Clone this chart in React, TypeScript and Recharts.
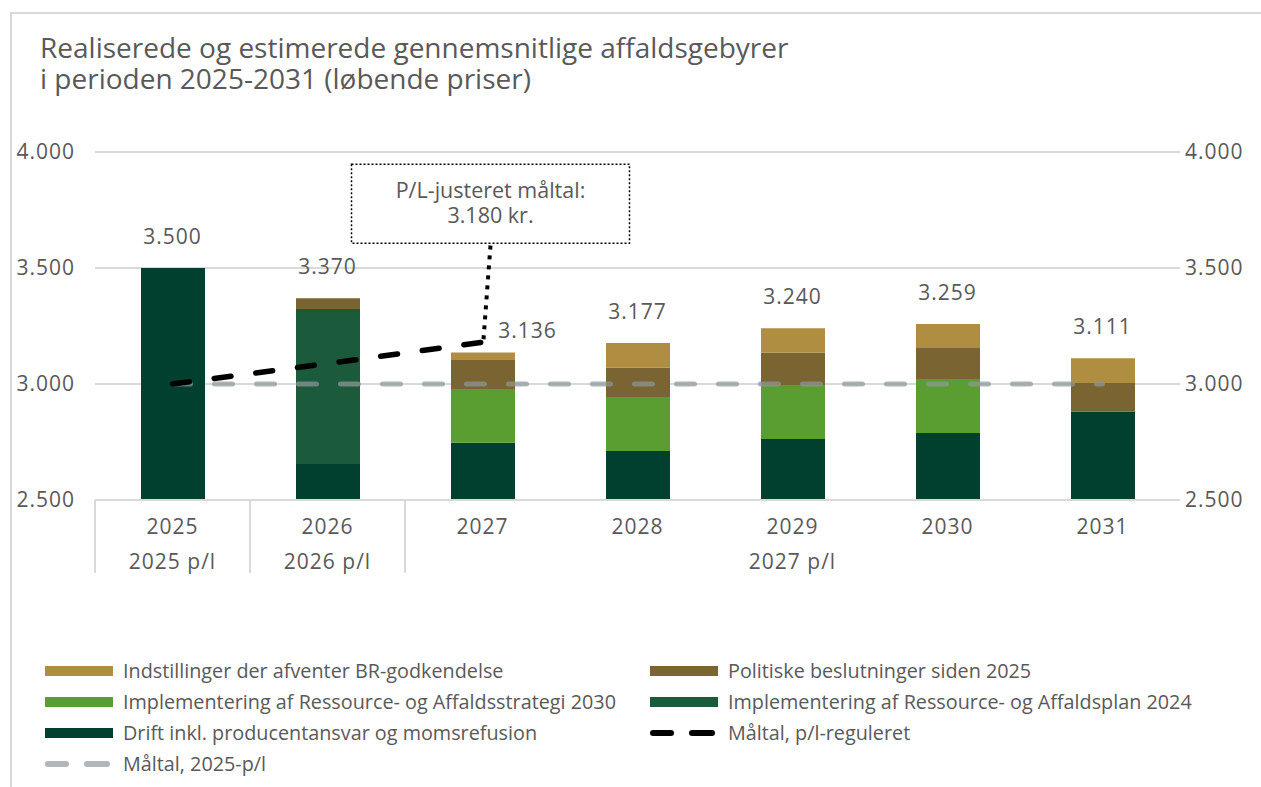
import React, { useLayoutEffect } from 'react';
import {
  ComposedChart,
  Bar,
  Line,
  XAxis,
  YAxis,
  CartesianGrid,
  ReferenceDot,
  LabelList,
} from 'recharts';

// Data
const years = ['2025', '2026', '2027', '2028', '2029', '2030', '2031'];
const groupLabels = ['2025 p/l', '2026 p/l', '', '', '2027 p/l', '', ''];
const groupStarts = [true, true, true, false, false, false, false];

const drift = [3500, 2655, 2747, 2711, 2763, 2789, 2881];
const plan2024 = [0, 668, 0, 0, 0, 0, 0];
const strategy2030 = [0, 0, 231, 233, 233, 233, 0];
const political = [0, 47, 125, 126, 139, 133, 123];
const pending = [0, 0, 33, 107, 105, 104, 107];
const totals = [3500, 3370, 3136, 3177, 3240, 3259, 3111];

const targetAdjusted = [3000, 3088, 3180, null, null, null, null];
const target2025 = [3000, 3000, 3000, 3000, 3000, 3000, 3000];

const yTicks = [2500, 3000, 3500, 4000];

const titleLines = [
  'Realiserede og estimerede gennemsnitlige affaldsgebyrer',
  'i perioden 2025-2031 (løbende priser)',
];
const calloutLines = ['P/L-justeret måltal:', '3.180 kr.'];

const FONT = '"Open Sans", "Noto Sans", sans-serif';
const TEXT = '#595959';
const GRID = '#d9d9d9';
const NUM_STYLE = { fill: TEXT, fontSize: 21, fontFamily: FONT, letterSpacing: 1 };

const COLORS = {
  drift: '#013f2e',
  plan: '#1b5a3a',
  strategy: '#5a9e32',
  political: '#7a6431',
  pending: '#b08e41',
  target2025: '#8e979a',
  targetAdjusted: '#000000',
};

const W = 1261;
const H = 787;
const PLOT_LEFT = 95;
const PLOT_RIGHT = 1180;
const BAND = (PLOT_RIGHT - PLOT_LEFT) / years.length;

const data = years.map((year, i) => ({
  year,
  drift: drift[i],
  plan: plan2024[i],
  strategy: strategy2030[i],
  political: political[i],
  pending: pending[i],
  total: totals[i],
  targetAdjusted: targetAdjusted[i],
  target2025: target2025[i],
}));

const fmt = (n: number) => String(n).replace(/\B(?=(\d{3})+(?!\d))/g, '.');

const XTick = (props: any) => {
  const { x, y, payload } = props;
  const i = payload.index;
  return (
    <g>
      <text x={x} y={y + 26} textAnchor="middle" dominantBaseline="central" {...NUM_STYLE}>
        {payload.value}
      </text>
      {groupLabels[i] && (
        <text x={x} y={y + 61} textAnchor="middle" dominantBaseline="central" {...NUM_STYLE}>
          {groupLabels[i]}
        </text>
      )}
      {groupStarts[i] && (
        <line x1={x - BAND / 2} x2={x - BAND / 2} y1={y} y2={y + 73} stroke={GRID} strokeWidth={2} />
      )}
    </g>
  );
};

const TotalLabel = (props: any) => {
  const { x, y, value, index } = props;
  const shifted = index === 2;
  return (
    <text x={x + (shifted ? 45 : 0)} y={y - (shifted ? 22 : 32)} textAnchor="middle"
      dominantBaseline="central" {...NUM_STYLE}>
      {fmt(value)}
    </text>
  );
};

// dotted connector + dotted box, anchored on the 2027 end of the adjusted target line
const Callout = (props: any) => {
  const { cx, cy } = props;
  if (cx == null || cy == null) return null;
  return (
    <g>
      <path d={`M${cx + 1},${cy - 3} L${cx + 8},${cy - 97}`} stroke="#000" strokeWidth={4}
        strokeDasharray="4 6" fill="none" />
      <rect x={cx - 131} y={cy - 178} width={278} height={79} fill="#fff" stroke="#000"
        strokeWidth={1.5} strokeDasharray="2 2" />
      <text x={cx + 8} y={cy - 144} textAnchor="middle" fill={TEXT} fontSize={21.5} fontFamily={FONT}>
        <tspan x={cx + 8}>{calloutLines[0]}</tspan>
        <tspan x={cx + 8} dy={25}>{calloutLines[1]}</tspan>
      </text>
    </g>
  );
};

const legendItems = [
  { label: 'Indstillinger der afventer BR-godkendelse', color: COLORS.pending, dash: false },
  { label: 'Politiske beslutninger siden 2025', color: COLORS.political, dash: false },
  { label: 'Implementering af Ressource- og Affaldsstrategi 2030', color: COLORS.strategy, dash: false },
  { label: 'Implementering af Ressource- og Affaldsplan 2024', color: COLORS.plan, dash: false },
  { label: 'Drift inkl. producentansvar og momsrefusion', color: COLORS.drift, dash: false },
  { label: 'Måltal, p/l-reguleret', color: '#000', dash: true },
  { label: 'Måltal, 2025-p/l', color: '#b0b6b9', dash: true },
];

const Swatch = ({ color, dash }: { color: string; dash: boolean }) => (
  <svg width={70} height={12} style={{ flex: 'none' }}>
    {dash ? (
      <>
        <line x1={3} x2={21} y1={6} y2={6} stroke={color} strokeWidth={6} strokeLinecap="round" />
        <line x1={42} x2={62} y1={6} y2={6} stroke={color} strokeWidth={6} strokeLinecap="round" />
      </>
    ) : (
      <rect x={0} y={1} width={68} height={10} fill={color} />
    )}
  </svg>
);

const ChartLegend = () => (
  <div style={{ position: 'absolute', left: 45, top: 655, display: 'grid',
    gridTemplateColumns: '605px 560px', fontFamily: FONT, fontSize: 19.8, color: TEXT }}>
    {legendItems.map((item) => (
      <div key={item.label} style={{ display: 'flex', alignItems: 'center', height: 31 }}>
        <Swatch color={item.color} dash={item.dash} />
        <span style={{ marginLeft: 8, whiteSpace: 'nowrap', lineHeight: '31px' }}>{item.label}</span>
      </div>
    ))}
  </div>
);

export default function App() {
  useLayoutEffect(() => {
    document.body.style.margin = '0';
    document.body.style.overflow = 'hidden';
  }, []);

  return (
    <div style={{ position: 'relative', width: W, height: H, overflow: 'hidden', background: '#fff' }}>
      <div style={{ position: 'absolute', left: 10, top: 12, width: W + 20, height: H + 20,
        borderTop: `2px solid ${GRID}`, borderLeft: `2px solid ${GRID}`, boxSizing: 'border-box' }} />
      <div style={{ position: 'absolute', left: 40, top: 32, fontFamily: FONT, fontSize: 28, color: TEXT }}>
        {titleLines.map((line) => (
          <div key={line} style={{ height: 31, lineHeight: '31px', whiteSpace: 'nowrap' }}>{line}</div>
        ))}
      </div>
      <div style={{ position: 'absolute', left: 0, top: 0 }}>
        <ComposedChart width={W} height={H} data={data}
          margin={{ top: 152, right: 0, bottom: 207, left: 0 }} barSize={64}>
          <CartesianGrid yAxisId="left" vertical={false} stroke={GRID} strokeWidth={2} />
          <XAxis dataKey="year" height={80} tickSize={0} tickMargin={0} axisLine={{ stroke: GRID, strokeWidth: 2 }}
            tickLine={false} tick={<XTick />} interval={0} />
          <YAxis yAxisId="left" domain={[2500, 4000]} ticks={yTicks} width={PLOT_LEFT} axisLine={false}
            tickLine={false} tickSize={0} tickMargin={20} tickFormatter={fmt}
            tick={NUM_STYLE} allowDataOverflow />
          <YAxis yAxisId="right" orientation="right" domain={[2500, 4000]} ticks={yTicks} width={W - PLOT_RIGHT}
            axisLine={false} tickLine={false} tickSize={0} tickMargin={5} tickFormatter={fmt}
            tick={{ ...NUM_STYLE, textAnchor: 'start' }} allowDataOverflow />
          <Bar yAxisId="left" dataKey="drift" stackId="a" fill={COLORS.drift} isAnimationActive={false} />
          <Bar yAxisId="left" dataKey="plan" stackId="a" fill={COLORS.plan} isAnimationActive={false} />
          <Bar yAxisId="left" dataKey="strategy" stackId="a" fill={COLORS.strategy} isAnimationActive={false} />
          <Bar yAxisId="left" dataKey="political" stackId="a" fill={COLORS.political} isAnimationActive={false} />
          <Bar yAxisId="left" dataKey="pending" stackId="a" fill={COLORS.pending} isAnimationActive={false} />
          <Line yAxisId="right" dataKey="total" stroke="none" dot={false} activeDot={false}
            isAnimationActive={false}>
            <LabelList dataKey="total" content={<TotalLabel />} />
          </Line>
          <Line yAxisId="left" dataKey="target2025" stroke={COLORS.target2025} strokeOpacity={0.72}
            strokeWidth={5} strokeDasharray="18 24" strokeLinecap="round" dot={false} activeDot={false}
            isAnimationActive={false} />
          <Line yAxisId="left" dataKey="targetAdjusted" stroke={COLORS.targetAdjusted} strokeWidth={5.5}
            strokeDasharray="17 25" strokeLinecap="round" dot={false} activeDot={false}
            connectNulls={false} isAnimationActive={false} />
          <ReferenceDot yAxisId="left" x="2027" y={3180} r={0} shape={<Callout />} />
        </ComposedChart>
      </div>
      <ChartLegend />
    </div>
  );
}
